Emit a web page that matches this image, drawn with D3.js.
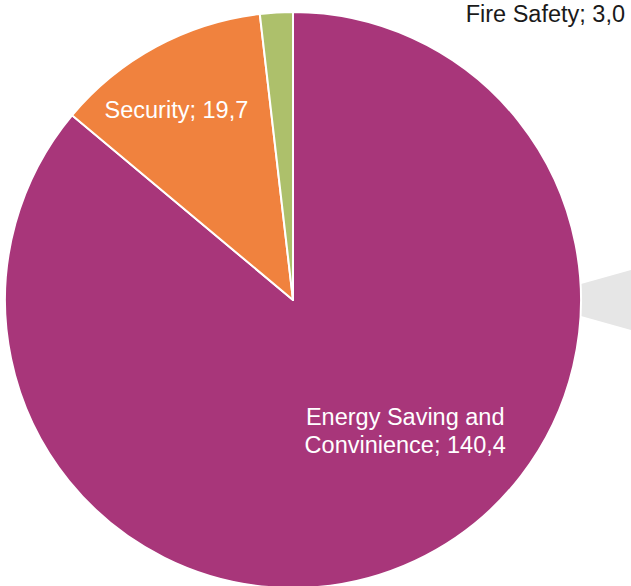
<!DOCTYPE html>
<html>
<head>
<meta charset="utf-8">
<script src="https://cdn.jsdelivr.net/npm/d3@7"></script>
<style>
  body { margin: 0; background: #fff; }
  svg { display: block; font-family: "Liberation Sans", Arial, sans-serif; }
</style>
</head>
<body>
<div id="chart"></div>
<script>
// slice data, clockwise from 12 o'clock
var categories = ["Energy Saving and Convinience", "Security", "Fire Safety"];
var values = [140.4, 19.7, 3.0];
var valueLabels = ["140,4", "19,7", "3,0"];

var colors = {
	"Energy Saving and Convinience": "#a8367a",
	"Security": "#f0823e",
	"Fire Safety": "#adc06b"
};

var width = 631, height = 586;
var cx = 293, cy = 300, radius = 288;

var svg = d3.select("#chart").append("svg")
	.attr("width", width)
	.attr("height", height);

// grey connector towards the secondary plot (cut off at the right)
svg.append("polygon")
	.attr("fill", "#e6e6e6")
	.attr("points", [
		[cx + radius, cy - 16], [width, cy - 30],
		[width, cy + 30], [cx + radius, cy + 16]
	].map(function(p){ return p.join(","); }).join(" "));

var pie = d3.pie().sort(null).value(function(d){ return d.value; });
var arc = d3.arc().innerRadius(0).outerRadius(radius);

var data = categories.map(function(c, i){
	return { name: c, value: values[i], label: valueLabels[i] };
});
var arcs = pie(data);

var g = svg.append("g").attr("transform", "translate(" + cx + "," + cy + ")");

g.selectAll("path")
	.data(arcs)
	.enter().append("path")
	.attr("d", arc)
	.attr("fill", function(d){ return colors[d.data.name]; })
	.attr("stroke", "#fff")
	.attr("stroke-width", 2)
	.attr("stroke-linejoin", "round");

// label placement: angle (deg, clockwise from top) and distance as share of radius
var labelPos = {
	"Energy Saving and Convinience": { a: 139.5, r: 0.6, fill: "#fff", wrap: true },
	"Security": { a: 328.5, r: 0.775, fill: "#fff" },
	"Fire Safety": { fixed: [625, 22], anchor: "end", fill: "#1a1a1a" }
};

arcs.forEach(function(d){
	var p = labelPos[d.data.name];
	var lines;
	if (p.wrap) {
		// break the long category name before its last word pair
		lines = ["Energy Saving and", "Convinience; " + d.data.label];
	} else {
		lines = [d.data.name + "; " + d.data.label];
	}
	var x, y, anchor = "middle";
	if (p.fixed) {
		x = p.fixed[0] - cx; y = p.fixed[1] - cy; anchor = p.anchor;
	} else {
		var ang = p.a * Math.PI / 180;
		x = Math.sin(ang) * radius * p.r;
		y = -Math.cos(ang) * radius * p.r;
	}
	var lh = 28;
	var t = g.append("text")
		.attr("text-anchor", anchor)
		.attr("fill", p.fill)
		.attr("font-size", "23.5px");
	lines.forEach(function(l, i){
		var dy = p.fixed ? 0 : (i - (lines.length - 1) / 2) * lh + 8;
		t.append("tspan")
			.attr("x", x)
			.attr("y", y + dy)
			.text(l);
	});
});
</script>
</body>
</html>
